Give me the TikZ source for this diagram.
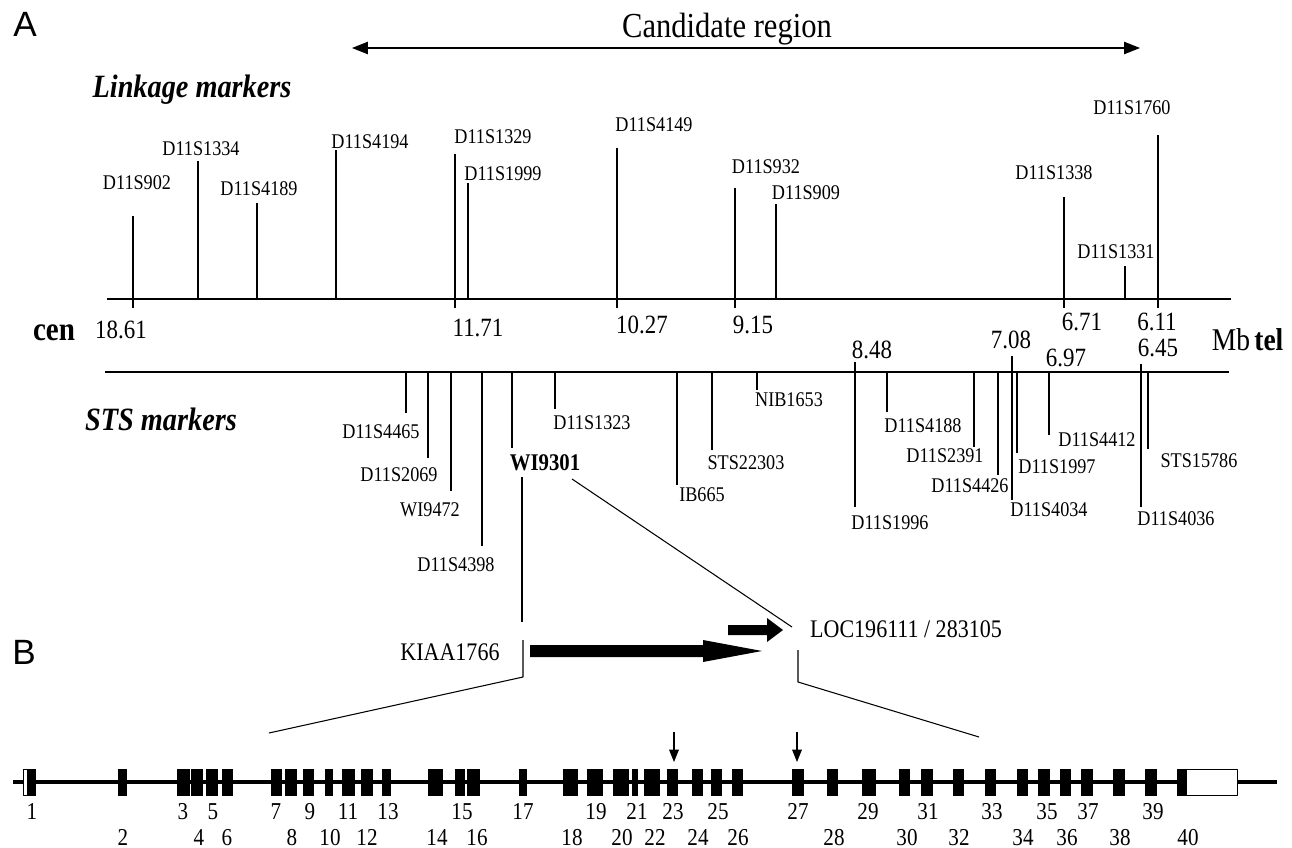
\documentclass[tikz,border=0pt]{standalone}
\usepackage{fontspec}
\setmainfont{Liberation Serif}[FakeStretch=0.87]
\newfontfamily\panelfont{Liberation Sans}
\usetikzlibrary{arrows.meta}

\begin{document}
\begin{tikzpicture}[x={(0.02cm,0cm)}, y={(0cm,-0.02cm)}, line join=round,
    mkline/.style={line width=0.6pt},
    mklbl/.style={inner sep=0pt, font=\fontsize{11.9}{13}\selectfont},
    mbpos/.style={inner sep=0pt, font=\fontsize{15}{17}\selectfont},
    hdr/.style={inner sep=0pt, anchor=base, font=\fontsize{18.5}{21}\selectfont\bfseries\itshape},
    exnum/.style={inner sep=0pt, anchor=base, font=\fontsize{13.8}{15}\selectfont},
    genelbl/.style={inner sep=0pt, font=\fontsize{14.4}{16}\selectfont},
    panel/.style={inner sep=0pt, font=\panelfont\fontsize{20}{22}\selectfont}]
  \useasboundingbox (0,0) rectangle (1292,848);
  \def\LB{299}  % linkage baseline
  \def\SB{372}  % STS baseline
  \def\EY{782}  % exon line

  % Panel letters
  \node[panel] (pA) at (25,24) {A};
  \node[panel] (pB) at (24,652) {B};

  % Candidate region
  \coordinate (candL) at (352,48);
  \coordinate (candR) at (1140,48);
  \draw[line width=0.7pt, {Triangle[length=9pt,width=7pt]}-{Triangle[length=9pt,width=7pt]}]
    (candL) -- (candR);
  \node[inner sep=0pt, anchor=base, font=\fontsize{20}{22}\selectfont] (cand) at (727,38)
    {Candidate region};

  % Linkage markers
  \node[hdr] (lkhdr) at (192,98) {Linkage markers};
  \draw[line width=0.8pt] (107,\LB) -- (1231,\LB);
  % line x / top / label x / label y / name
  \foreach \xx/\tp/\lx/\ly/\lbl in {
      133/216/137/183/D11S902,
      198/161/201/149/D11S1334,
      257/203/259/189/D11S4189,
      336/150/370/142/D11S4194,
      455/154/493/137/D11S1329,
      468/183/503/174/D11S1999,
      617/148/654/125/D11S4149,
      735/188/766/167/D11S932,
      776/204/806/193/D11S909,
      1064/197/1054/173/D11S1338,
      1125/266/1116/252/D11S1331,
      1158/135/1132/108/D11S1760}{
    \draw[mkline] (\xx,\LB) -- (\xx,\tp);
    \node[mklbl] (lk-\lbl) at (\lx,\ly) {\lbl};
  }
  % Ticks with positions (Mb)
  \foreach \xx/\nx/\ny/\mb [count=\i] in {
      133/121/330/18.61, 455/478/328/11.71, 617/642/325/10.27,
      735/753/325/9.15, 1064/1082/322/6.71, 1158/1157/322/6.11}{
    \draw[mkline] (\xx,\LB) -- (\xx,308);
    \node[mbpos] (lkmb\i) at (\nx,\ny) {\mb};
  }

  % Axis ends
  \node[inner sep=0pt, font=\fontsize{19}{21}\selectfont\bfseries] (cen) at (54,333) {cen};
  \node[inner sep=0pt, font=\fontsize{18}{20}\selectfont] (mb) at (1231,340) {Mb};
  \node[inner sep=0pt, font=\fontsize{18}{20}\selectfont\bfseries, right=2pt] (tel) at (mb.east) {tel};

  % STS markers
  \node[hdr] (stshdr) at (161,430) {STS markers};
  \draw[line width=0.8pt] (105,\SB) -- (1229,\SB);
  % line x / start / end / label x / label y / name
  \foreach \xx/\st/\bt/\lx/\ly/\lbl in {
      406/\SB/413/381/432/D11S4465,
      428/\SB/458/399/475/D11S2069,
      451/\SB/491/430/510/WI9472,
      482/\SB/546/456/565/D11S4398,
      512/\SB/448/0/0/,
      555/\SB/409/592/423/D11S1323,
      677/\SB/485/702/495/IB665,
      712/\SB/450/746/463/STS22303,
      757/\SB/390/789/400/NIB1653,
      855/362/507/890/523/D11S1996,
      887/\SB/412/923/426/D11S4188,
      974/\SB/447/945/456/D11S2391,
      998/\SB/475/970/486/D11S4426,
      1012/356/500/1049/510/D11S4034,
      1017/\SB/453/1057/467/D11S1997,
      1049/\SB/435/1097/440/D11S4412,
      1141/364/507/1176/519/D11S4036,
      1148/\SB/449/1199/461/STS15786}{
    \draw[mkline] (\xx,\st) -- (\xx,\bt);
    \node[mklbl] (sts-\xx) at (\lx,\ly) {\lbl};
  }
  \foreach \nx/\ny/\mb [count=\i] in {872/350/8.48, 1011/340/7.08, 1066/358/6.97, 1158/348/6.45}
    \node[mbpos] (stsmb\i) at (\nx,\ny) {\mb};
  \node[mklbl, font=\fontsize{13.6}{15}\selectfont\bfseries] (wi) at (545,463) {WI9301};

  % Zoom lines from WI9301
  \coordinate (wiL) at (522,477);
  \coordinate (wiR) at (572,479);
  \coordinate (kiaTop) at (522,622);
  \coordinate (locTop) at (792,627);
  \draw[mkline] (wiL) -- (kiaTop);
  \draw[mkline] (wiR) -- (locTop);

  % Genes
  \node[genelbl] (kiaa) at (450,652) {KIAA1766};
  \node[genelbl, anchor=base] (loc) at (906,637) {LOC196111 / 283105};
  \fill (530,645) -- (703,645) -- (703,640) -- (762,651) -- (703,662) -- (703,657) -- (530,657) -- cycle;
  \fill (728,625) -- (767,625) -- (767,618) -- (783,630) -- (767,642) -- (767,635) -- (728,635) -- cycle;

  % Brackets to exon map
  \coordinate (kiaB) at (523,640);
  \coordinate (locB) at (798,650);
  \draw[mkline] (kiaB) -- (523,677) -- (269,733);
  \draw[mkline] (locB) -- (798,682) -- (979,737);

  % Exon map
  \draw[line width=2.6pt] (13,\EY) -- (1277,\EY);
  % left / right / label x
  \foreach \l/\r/\lx [count=\n] in {
      23/36/32, 118/127/123, 177/190/183, 191/203/199, 206/218/213,
      222/233/227, 271/282/276, 285/297/292, 303/314/310, 325/333/330,
      342/355/348, 361/373/367, 382/391/388, 428/443/437, 455/465/462,
      467/480/477, 519/527/523, 563/578/572, 587/603/596, 613/629/622,
      632/638/637, 644/660/655, 667/678/673, 692/703/698, 711/722/718,
      732/743/738, 792/804/798, 827/838/834, 862/876/868, 899/910/907,
      921/933/928, 953/964/959, 985/996/992, 1017/1028/1023, 1038/1050/1047,
      1060/1071/1067, 1081/1093/1088, 1113/1125/1120, 1145/1157/1153, 1177/1238/1188}{
    \fill (\l,769) rectangle (\r,796);
    \pgfmathsetmacro\ey{mod(\n,2)==1 ? 819 : 845}
    \node[exnum] (ex\n) at (\lx,\ey) {\n};
  }
  % Untranslated parts
  \filldraw[fill=white, line width=0.6pt] (23.3,769.3) rectangle (28,795.7);
  \filldraw[fill=white, line width=0.6pt] (1186,769.3) rectangle (1237.7,795.7);

  % Mutations
  \foreach \xx in {674,797}
    \draw[mkline, -{Triangle[length=7pt,width=5.5pt]}] (\xx,732) -- (\xx,762);
\end{tikzpicture}
\end{document}
